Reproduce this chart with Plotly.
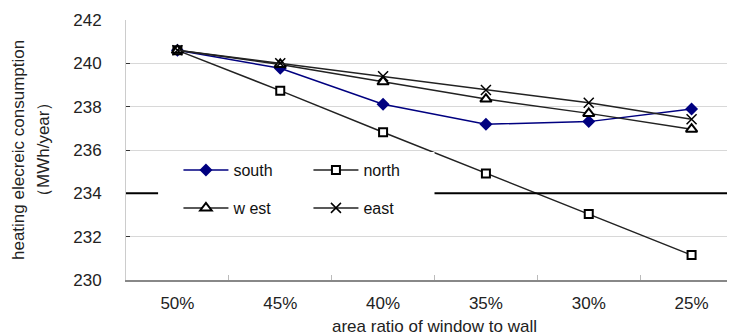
import plotly.graph_objects as go

categories = ["50%", "45%", "40%", "35%", "30%", "25%"]
south = [240.6, 239.77, 238.11, 237.19, 237.31, 237.89]
north = [240.6, 238.74, 236.82, 234.92, 233.05, 231.15]
west = [240.6, 239.95, 239.15, 238.35, 237.69, 236.96]
east = [240.6, 240.0, 239.4, 238.77, 238.18, 237.42]
y_ticks = [230, 232, 234, 236, 238, 240, 242]

FONT = "Liberation Sans"
fig = go.Figure()

fig.add_trace(go.Scatter(x=categories, y=south, name="south", mode="lines+markers",
                         line=dict(color="#000080", width=1.5),
                         marker=dict(symbol="diamond", size=10, color="#000080"),
                         legend="legend"))
fig.add_trace(go.Scatter(x=categories, y=north, name="north", mode="lines+markers",
                         line=dict(color="#222222", width=1.5),
                         marker=dict(symbol="square", size=8, color="white",
                                     line=dict(color="black", width=2)),
                         legend="legend"))
fig.add_trace(go.Scatter(x=categories, y=west, name="w est", mode="lines+markers",
                         line=dict(color="#222222", width=1.5),
                         marker=dict(symbol="triangle-up", size=10, color="white",
                                     line=dict(color="black", width=2)),
                         legend="legend2"))
fig.add_trace(go.Scatter(x=categories, y=east, name="east", mode="lines+markers",
                         line=dict(color="#222222", width=1.5),
                         marker=dict(symbol="x-thin", size=10,
                                     line=dict(color="black", width=1.5)),
                         legend="legend2"))

# black reference line at 234
fig.add_shape(type="line", xref="paper", x0=0, x1=1, yref="y", y0=234, y1=234,
              line=dict(color="black", width=2), layer="above")
# white legend backdrop
fig.add_shape(type="rect", xref="paper", x0=0.052, x1=0.5, yref="paper",
              y0=0.208, y1=0.492, fillcolor="white", line=dict(width=0), layer="above")

legend_common = dict(orientation="h", bgcolor="rgba(0,0,0,0)",
                     font=dict(family=FONT, size=16, color="#111"),
                     itemwidth=45, entrywidth=70, entrywidthmode="pixels",
                     xanchor="left", yanchor="middle", itemclick=False)
fig.update_layout(
    legend=dict(x=0.085, y=0.423, **legend_common),
    legend2=dict(x=0.085, y=0.277, **legend_common),
)

fig.add_annotation(text="heating elecreic consumption", xref="paper", yref="paper",
                   x=0, y=0.5, xanchor="center", yanchor="middle", xshift=-108,
                   textangle=-90, showarrow=False,
                   font=dict(family=FONT, size=17, color="#222"))
fig.add_annotation(text="（MWh/year）", xref="paper", yref="paper",
                   x=0, y=0.5, xanchor="center", yanchor="middle", xshift=-83,
                   textangle=-90, showarrow=False,
                   font=dict(family=FONT, size=17, color="#222"))

fig.update_layout(
    width=735, height=335,
    margin=dict(l=118, r=0, t=12, b=63),
    paper_bgcolor="white", plot_bgcolor="white",
    font=dict(family=FONT, size=16, color="#222"),
    showlegend=True,
    xaxis=dict(
        range=[-0.5, 5.5], showgrid=False, showline=True, linecolor="#888888", linewidth=1.5,
        ticks="inside", tickson="boundaries", ticklen=5, tickcolor="#bbbbbb",
        tickfont=dict(family=FONT, size=17, color="#222"), ticklabelstandoff=7,
        title=dict(text="area ratio of window to wall", font=dict(family=FONT, size=17, color="#222"),
                   standoff=8),
        zeroline=False,
    ),
    yaxis=dict(
        range=[230, 242], tickvals=y_ticks, showgrid=True, gridcolor="#d8d8d8", gridwidth=1,
        showline=True, linecolor="#cccccc", linewidth=1,
        ticks="inside", ticklen=4, tickcolor="#333333",
        tickfont=dict(family=FONT, size=17, color="#222"), ticklabelstandoff=20,
        zeroline=False,
    ),
)

fig.write_html("out.html")
